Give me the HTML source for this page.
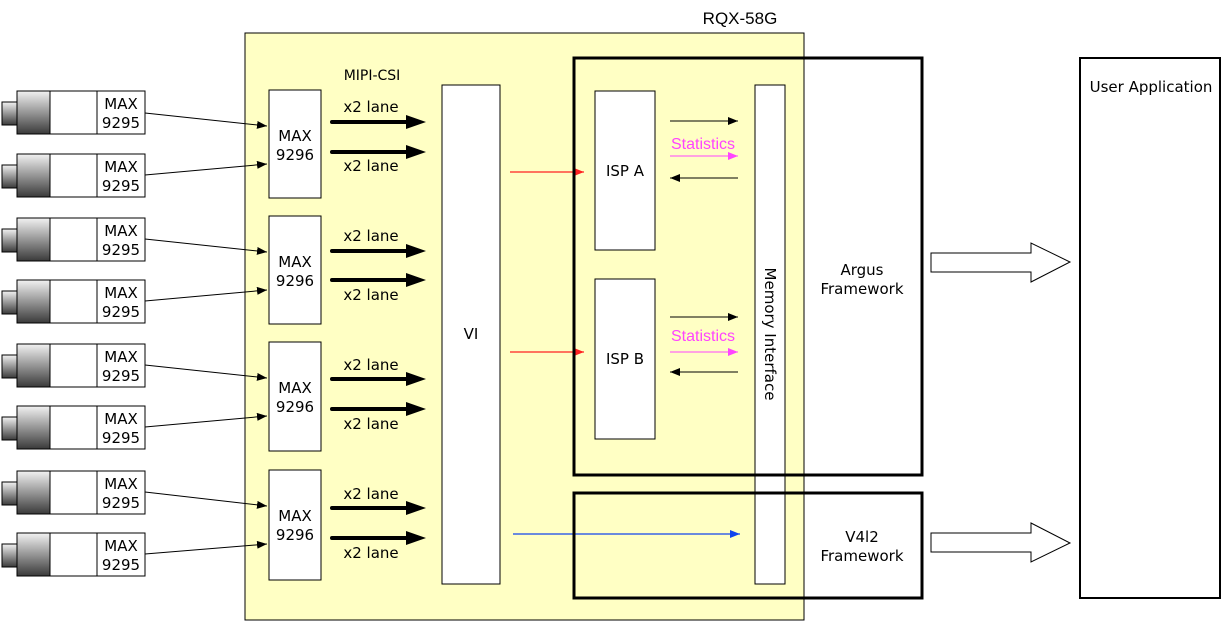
<!DOCTYPE html>
<html><head><meta charset="utf-8"><style>
html,body{margin:0;padding:0;background:#fff;}
svg{display:block;font-family:"DejaVu Sans","Liberation Sans",sans-serif;}
</style></head><body>
<svg width="1222" height="622" viewBox="0 0 1222 622" xmlns="http://www.w3.org/2000/svg">
<defs>
<linearGradient id="g" x1="0" y1="0" x2="0" y2="1">
<stop offset="0" stop-color="#f2f2f2"/><stop offset="1" stop-color="#3a3a3a"/></linearGradient>
<marker id="a" markerWidth="10" markerHeight="8" refX="10" refY="4" orient="auto" markerUnits="userSpaceOnUse"><path d="M0,0 L10,4 L0,8z" fill="#000"/></marker>
<marker id="ar" markerWidth="10" markerHeight="8" refX="10" refY="4" orient="auto" markerUnits="userSpaceOnUse"><path d="M0,0 L10,4 L0,8z" fill="#f22"/></marker>
<marker id="ab" markerWidth="10" markerHeight="8" refX="10" refY="4" orient="auto" markerUnits="userSpaceOnUse"><path d="M0,0 L10,4 L0,8z" fill="#1144ee"/></marker>
<marker id="ap" markerWidth="10" markerHeight="8" refX="10" refY="4" orient="auto" markerUnits="userSpaceOnUse"><path d="M0,0 L10,4 L0,8z" fill="#ff44ff"/></marker>
</defs>
<rect x="245" y="33" width="559" height="587" fill="#ffffc4" stroke="#000" stroke-width="1"/>
<text x="740" y="24" font-size="17" text-anchor="middle" font-family="Liberation Sans,sans-serif">RQX-58G</text>
<text x="372" y="80" font-size="14" text-anchor="middle">MIPI-CSI</text>
<g stroke="#000" stroke-width="1">
<g transform="translate(0,91)"><rect x="2" y="11" width="15" height="23" fill="url(#g)"/><rect x="17" y="0" width="33" height="43" fill="url(#g)"/><rect x="50" y="0" width="95" height="43" fill="#fff"/><line x1="97" y1="0" x2="97" y2="43"/></g>
<g transform="translate(0,154)"><rect x="2" y="11" width="15" height="23" fill="url(#g)"/><rect x="17" y="0" width="33" height="43" fill="url(#g)"/><rect x="50" y="0" width="95" height="43" fill="#fff"/><line x1="97" y1="0" x2="97" y2="43"/></g>
<g transform="translate(0,218)"><rect x="2" y="11" width="15" height="23" fill="url(#g)"/><rect x="17" y="0" width="33" height="43" fill="url(#g)"/><rect x="50" y="0" width="95" height="43" fill="#fff"/><line x1="97" y1="0" x2="97" y2="43"/></g>
<g transform="translate(0,280)"><rect x="2" y="11" width="15" height="23" fill="url(#g)"/><rect x="17" y="0" width="33" height="43" fill="url(#g)"/><rect x="50" y="0" width="95" height="43" fill="#fff"/><line x1="97" y1="0" x2="97" y2="43"/></g>
<g transform="translate(0,344)"><rect x="2" y="11" width="15" height="23" fill="url(#g)"/><rect x="17" y="0" width="33" height="43" fill="url(#g)"/><rect x="50" y="0" width="95" height="43" fill="#fff"/><line x1="97" y1="0" x2="97" y2="43"/></g>
<g transform="translate(0,406)"><rect x="2" y="11" width="15" height="23" fill="url(#g)"/><rect x="17" y="0" width="33" height="43" fill="url(#g)"/><rect x="50" y="0" width="95" height="43" fill="#fff"/><line x1="97" y1="0" x2="97" y2="43"/></g>
<g transform="translate(0,471)"><rect x="2" y="11" width="15" height="23" fill="url(#g)"/><rect x="17" y="0" width="33" height="43" fill="url(#g)"/><rect x="50" y="0" width="95" height="43" fill="#fff"/><line x1="97" y1="0" x2="97" y2="43"/></g>
<g transform="translate(0,533)"><rect x="2" y="11" width="15" height="23" fill="url(#g)"/><rect x="17" y="0" width="33" height="43" fill="url(#g)"/><rect x="50" y="0" width="95" height="43" fill="#fff"/><line x1="97" y1="0" x2="97" y2="43"/></g>
<rect x="269" y="90" width="52" height="108" fill="#fff"/>
<rect x="269" y="216" width="52" height="108" fill="#fff"/>
<rect x="269" y="342" width="52" height="109" fill="#fff"/>
<rect x="269" y="470" width="52" height="110" fill="#fff"/>
<rect x="442" y="85" width="58" height="499" fill="#fff"/>
<rect x="595" y="91" width="60" height="159" fill="#fff"/>
<rect x="595" y="279" width="60" height="160" fill="#fff"/>
<rect x="755" y="85" width="30" height="499" fill="#fff"/>
<line x1="145" y1="113" x2="267" y2="126" marker-end="url(#a)"/>
<line x1="145" y1="175" x2="267" y2="164" marker-end="url(#a)"/>
<line x1="145" y1="239" x2="267" y2="252" marker-end="url(#a)"/>
<line x1="145" y1="301" x2="267" y2="290" marker-end="url(#a)"/>
<line x1="145" y1="365" x2="267" y2="378" marker-end="url(#a)"/>
<line x1="145" y1="427" x2="267" y2="416" marker-end="url(#a)"/>
<line x1="145" y1="492" x2="267" y2="506" marker-end="url(#a)"/>
<line x1="145" y1="554" x2="267" y2="544" marker-end="url(#a)"/>
<line x1="670" y1="121" x2="738" y2="121" marker-end="url(#a)"/>
<line x1="738" y1="178" x2="670" y2="178" marker-end="url(#a)"/>
<line x1="670" y1="317" x2="738" y2="317" marker-end="url(#a)"/>
<line x1="738" y1="372" x2="670" y2="372" marker-end="url(#a)"/>
</g>
<g stroke="#ff44ff" stroke-width="1">
<line x1="670" y1="156" x2="738" y2="156" marker-end="url(#ap)"/>
<line x1="670" y1="352" x2="738" y2="352" marker-end="url(#ap)"/>
</g>
<g stroke="#f22" stroke-width="1.3">
<line x1="510" y1="172" x2="584" y2="172" marker-end="url(#ar)"/>
<line x1="510" y1="352" x2="584" y2="352" marker-end="url(#ar)"/>
</g>
<line x1="513" y1="534" x2="740" y2="534" stroke="#1144ee" stroke-width="1.3" marker-end="url(#ab)"/>
<g stroke="#000" stroke-width="4" stroke-linecap="round">
<line x1="332" y1="122" x2="412" y2="122"/><line x1="332" y1="152" x2="412" y2="152"/>
<line x1="332" y1="251" x2="412" y2="251"/><line x1="332" y1="280" x2="412" y2="280"/>
<line x1="332" y1="379" x2="412" y2="379"/><line x1="332" y1="409" x2="412" y2="409"/>
<line x1="332" y1="508" x2="412" y2="508"/><line x1="332" y1="538" x2="412" y2="538"/>
</g>
<g fill="#000">
<path d="M406,115 L426,122 L406,129z"/><path d="M406,145 L426,152 L406,159z"/>
<path d="M406,244 L426,251 L406,258z"/><path d="M406,273 L426,280 L406,287z"/>
<path d="M406,372 L426,379 L406,386z"/><path d="M406,402 L426,409 L406,416z"/>
<path d="M406,501 L426,508 L406,515z"/><path d="M406,531 L426,538 L406,545z"/>
</g>
<rect x="574" y="58" width="348" height="417" fill="none" stroke="#000" stroke-width="3"/>
<rect x="574" y="493" width="348" height="105" fill="none" stroke="#000" stroke-width="3"/>
<rect x="1080" y="58" width="140" height="540" fill="#fff" stroke="#000" stroke-width="2"/>
<path d="M931,253 H1031 V243 L1070,262 L1031,282 V272 H931z" fill="#fff" stroke="#000"/>
<path d="M931,533 H1031 V523 L1070,543 L1031,562 V552 H931z" fill="#fff" stroke="#000"/>
<g font-size="15" text-anchor="middle" fill="#000">
<text x="121" y="109">MAX</text><text x="121" y="128">9295</text>
<text x="121" y="172">MAX</text><text x="121" y="191">9295</text>
<text x="121" y="236">MAX</text><text x="121" y="255">9295</text>
<text x="121" y="298">MAX</text><text x="121" y="317">9295</text>
<text x="121" y="362">MAX</text><text x="121" y="381">9295</text>
<text x="121" y="424">MAX</text><text x="121" y="443">9295</text>
<text x="121" y="489">MAX</text><text x="121" y="508">9295</text>
<text x="121" y="551">MAX</text><text x="121" y="570">9295</text>
<text x="295" y="141">MAX</text><text x="295" y="160">9296</text>
<text x="295" y="267">MAX</text><text x="295" y="286">9296</text>
<text x="295" y="393">MAX</text><text x="295" y="412">9296</text>
<text x="295" y="521">MAX</text><text x="295" y="540">9296</text>
<text x="371" y="112">x2 lane</text><text x="371" y="171">x2 lane</text>
<text x="371" y="241">x2 lane</text><text x="371" y="300">x2 lane</text>
<text x="371" y="370">x2 lane</text><text x="371" y="429">x2 lane</text>
<text x="371" y="499">x2 lane</text><text x="371" y="558">x2 lane</text>
<text x="471" y="339">VI</text>
<text x="625" y="176">ISP A</text>
<text x="625" y="364">ISP B</text>
<text x="862" y="275">Argus</text><text x="862" y="294">Framework</text>
<text x="862" y="542">V4l2</text><text x="862" y="561">Framework</text>
<text x="1151" y="92">User Application</text>
<text x="703" y="149" fill="#ff44ff" font-family="Liberation Sans,sans-serif" font-size="16">Statistics</text>
<text x="703" y="341" fill="#ff44ff" font-family="Liberation Sans,sans-serif" font-size="16">Statistics</text>
<text transform="translate(765,334) rotate(90)" text-anchor="middle" font-size="15">Memory Interface</text>
</g>
</svg>
</body></html>
